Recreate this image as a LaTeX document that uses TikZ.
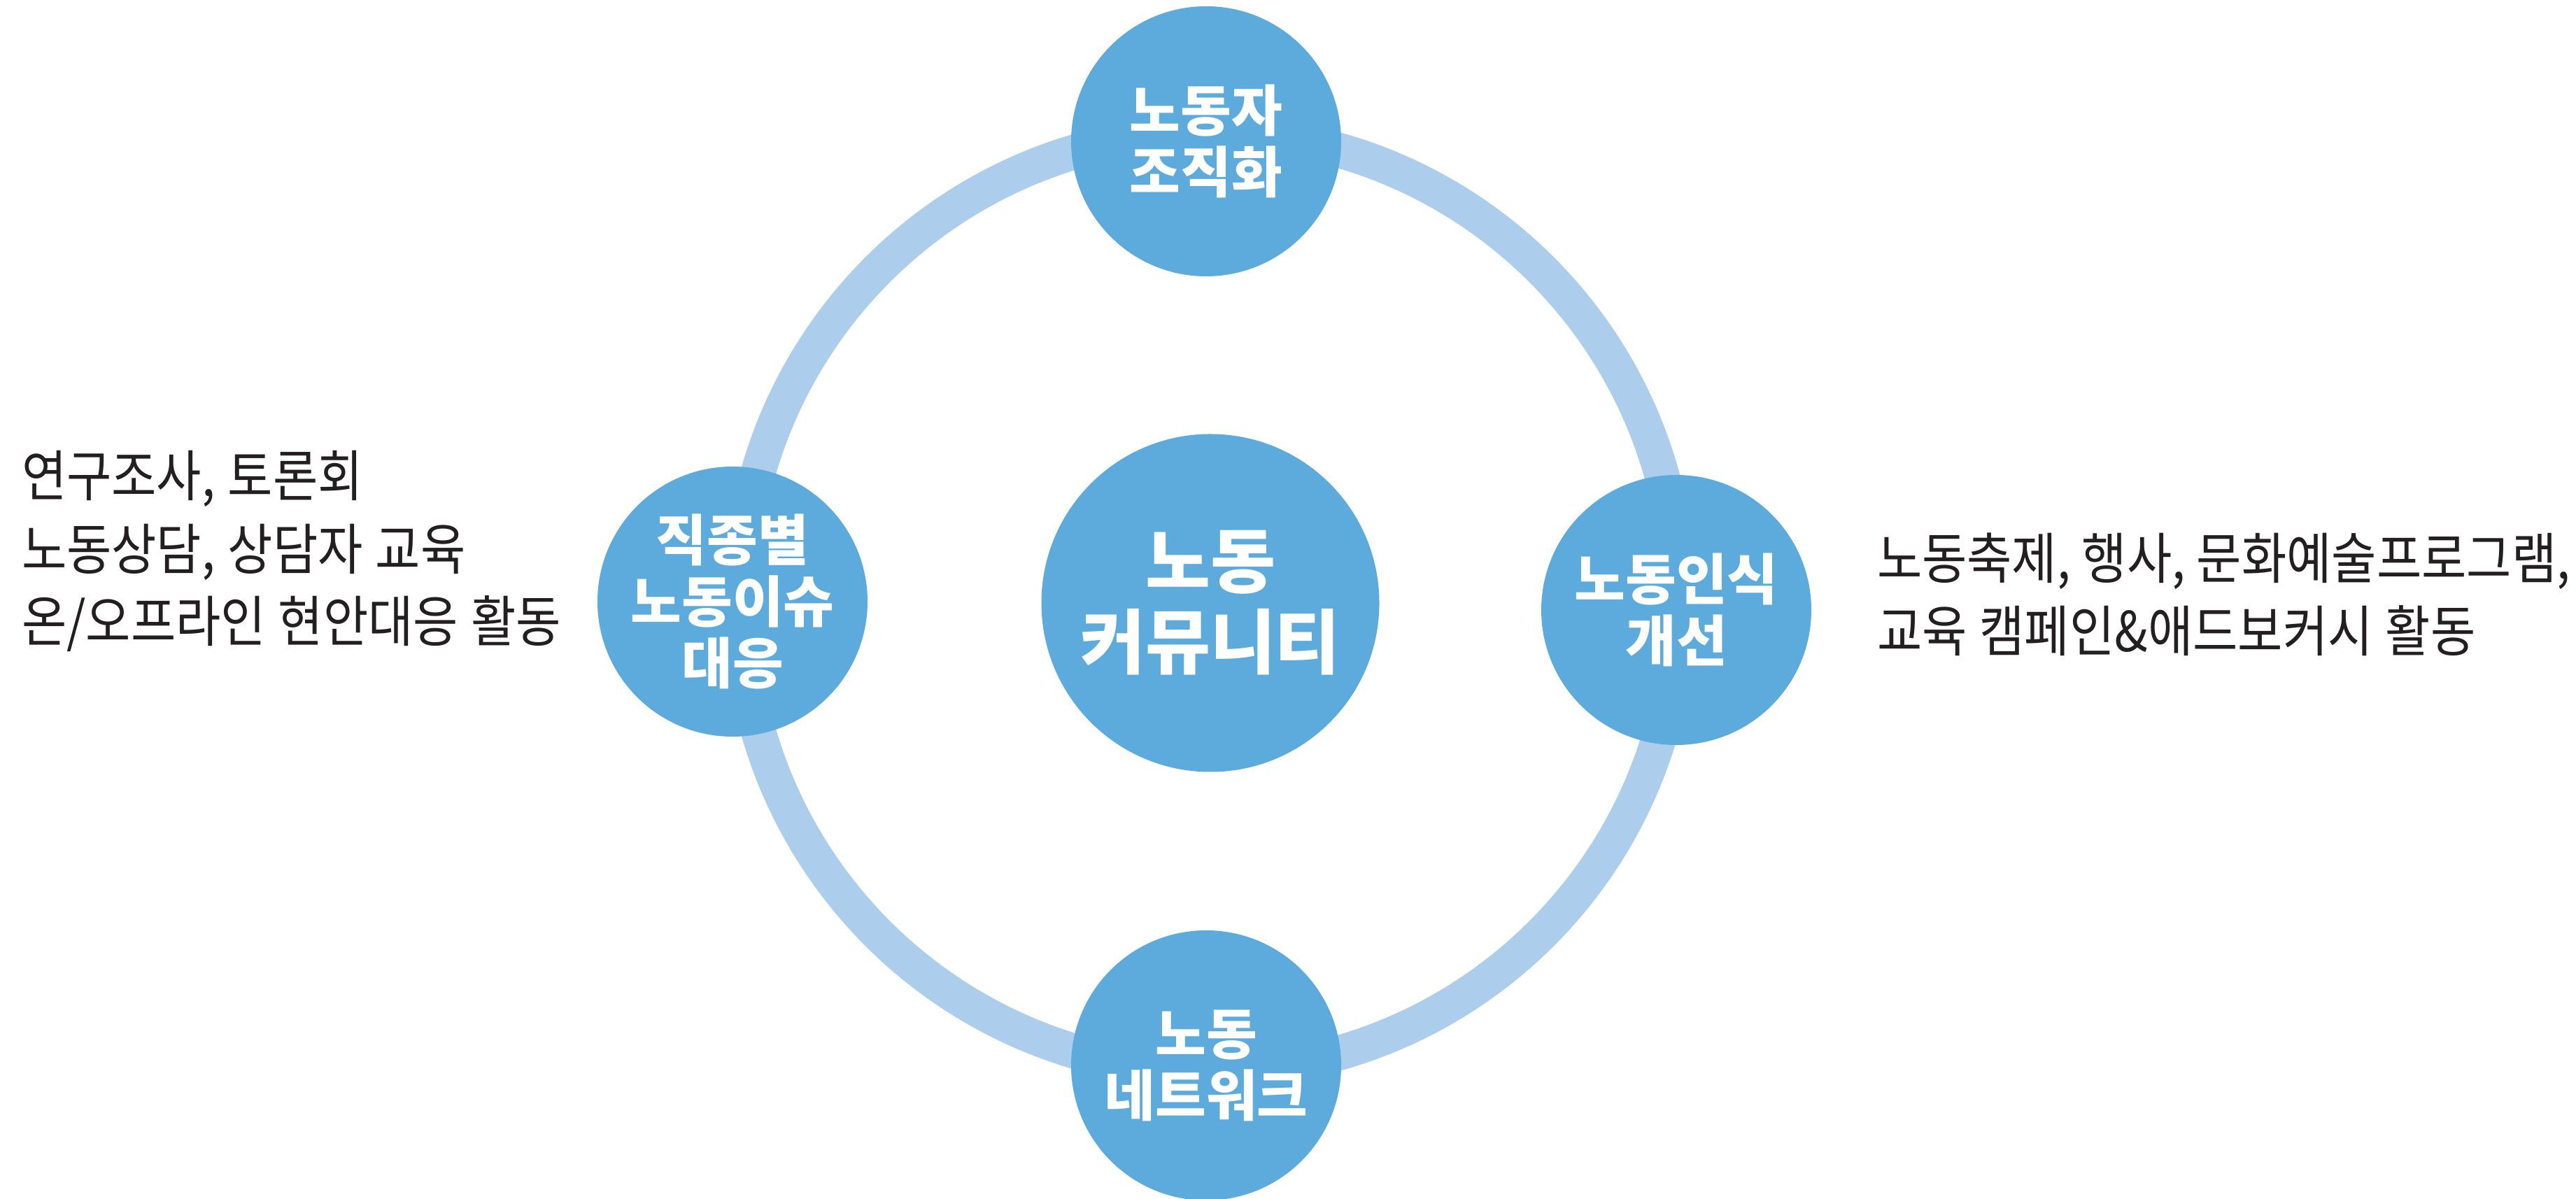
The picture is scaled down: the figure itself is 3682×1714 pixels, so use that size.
\documentclass[tikz,border=0pt]{standalone}
\usepackage{fontspec}
\newfontfamily\krtext[FakeStretch=0.885,WordSpace=1.15]{Noto Sans CJK KR}
\newfontfamily\krhead{Noto Sans CJK KR Black}
\definecolor{bubble}{RGB}{93,170,220}
\definecolor{ringcol}{RGB}{172,205,235}
\definecolor{ink}{RGB}{35,31,32}
\begin{document}
\begin{tikzpicture}[x=0.2pt,y=-0.2pt,
  bub/.style={circle, fill=bubble, text=white, inner sep=0pt, minimum size=77.2pt, align=center,
    font=\krhead\fontsize{15.8}{17.6}\selectfont},
  core/.style={circle, fill=bubble, text=white, inner sep=0pt, minimum size=96.6pt, align=center,
    font=\krhead\fontsize{20.2}{23.2}\selectfont},
  sideline/.style={anchor=base west, inner sep=0pt, text=ink, font=\krtext\fontsize{15.8}{20.8}\selectfont},
  ringline/.style={draw=ringcol, line width=10pt}]
\useasboundingbox (0,0) rectangle (3682,1714);
\fill[white] (0,0) rectangle (3682,1714);
\coordinate (ringc) at (1729,860);
\draw[ringline] (ringc) circle (671);
\node[bub] (top) at (1724,202) {노동자\\조직화};
\node[bub] (left) at (1047,860) {직종별\\노동이슈\\대응};
\node[bub] (right) at (2396,872) {노동인식\\개선};
\node[bub] (bottom) at (1724,1523) {노동\\네트워크};
\node[core] (center) at (1730,862) {노동\\커뮤니티};
\node[sideline] (l1) at (30,710) {연구조사, 토론회};
\node[sideline] (l2) at (30,815) {노동상담, 상담자 교육};
\node[sideline] (l3) at (30,918) {온/오프라인 현안대응 활동};
\node[sideline] (r1) at (2682,828) {노동축제,\hspace{-0.4pt} 행사,\hspace{-0.4pt} 문화예술프로그램,};
\node[sideline] (r2) at (2682,932) {교육 캠페인\&애드보커시 활동};
\end{tikzpicture}
\end{document}
